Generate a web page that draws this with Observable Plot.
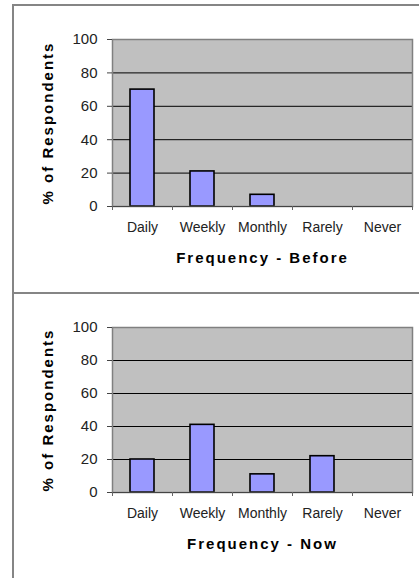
<!DOCTYPE html>
<html><head><meta charset="utf-8">
<script src="https://cdn.jsdelivr.net/npm/d3@7"></script>
<script src="https://cdn.jsdelivr.net/npm/@observablehq/plot@0.6"></script>
<style>
html,body{margin:0;padding:0;background:#fff;}
#wrap{position:relative;width:419px;height:578px;overflow:hidden;background:#fff;font-family:"Liberation Sans",Arial,sans-serif;}
.panel{position:absolute;left:12px;right:-10px;border-top:2px solid #858585;border-left:2px solid #858585;}
#p1{top:4px;height:300px}
#p2{top:292px;height:300px}
.chart{position:absolute;left:0;}
.chart svg{display:block;overflow:visible}
g[aria-label="x-axis label"] text, g[aria-label="y-axis label"] text{font-weight:bold;letter-spacing:2px;font-size:15px;fill:#000}
</style></head>
<body>
<div id="wrap">
  <div class="panel" id="p1"></div>
  <div class="panel" id="p2"></div>
  <div class="chart" id="c1" style="top:0px"></div>
  <div class="chart" id="c2" style="top:290px"></div>
</div>
<script>
const categories = ["Daily", "Weekly", "Monthly", "Rarely", "Never"];
const before = [70, 21, 7, 0, 0];
const now = [20, 41, 11, 22, 0];
const yTicks = [0, 20, 40, 60, 80, 100];
const gridValues = [20, 40, 60, 80];
const titleBefore = "Frequency - Before";
const titleNow = "Frequency - Now";
const yTitle = "% of Respondents";

function makeChart(values, xTitle, height, marginTop, marginBottom) {
  const width = 419, marginLeft = 112, marginRight = 7;
  const bw = (width - marginLeft - marginRight) / categories.length;
  const data = categories.map((c, i) => ({cat: c, val: values[i]})).filter(d => d.val > 0);
  return Plot.plot({
    width, height, marginLeft, marginRight, marginTop, marginBottom,
    style: {fontFamily: '"Liberation Sans", Arial, sans-serif', color: "#222", background: "transparent"},
    x: {domain: categories, padding: 0},
    y: {domain: [0, 100]},
    marks: [
      Plot.frame({fill: "#c0c0c0"}),
      Plot.ruleY(gridValues, {stroke: "#000", strokeWidth: 1}),
      Plot.barY(data, {x: "cat", y: "val", fill: "#9999ff", stroke: "#000", strokeWidth: 1.6, insetLeft: 18, insetRight: 18}),
      Plot.frame({stroke: "#808080", strokeWidth: 1.5}),
      Plot.ruleY([0], {stroke: "#444", strokeWidth: 1}),
      Plot.axisY({ticks: yTicks, tickSize: 5, tickPadding: 10, fontSize: 15, stroke: "#444",
        label: yTitle, labelArrow: "none", labelAnchor: "center", labelOffset: 70}),
      Plot.axisX({tickSize: 0, tickPadding: 16, fontSize: 14,
        label: xTitle, labelArrow: "none", labelAnchor: "center", labelOffset: 56}),
      Plot.axisX({tickSize: 4, text: null, label: null, dx: -bw / 2, stroke: "#666"}),
      Plot.axisX({ticks: [categories[categories.length - 1]], tickSize: 4, text: null, label: null, dx: bw / 2, stroke: "#666"})
    ]
  });
}

document.getElementById("c1").appendChild(makeChart(before, titleBefore, 290, 39, 84));
document.getElementById("c2").appendChild(makeChart(now, titleNow, 288, 37, 86));
</script>
</body></html>
